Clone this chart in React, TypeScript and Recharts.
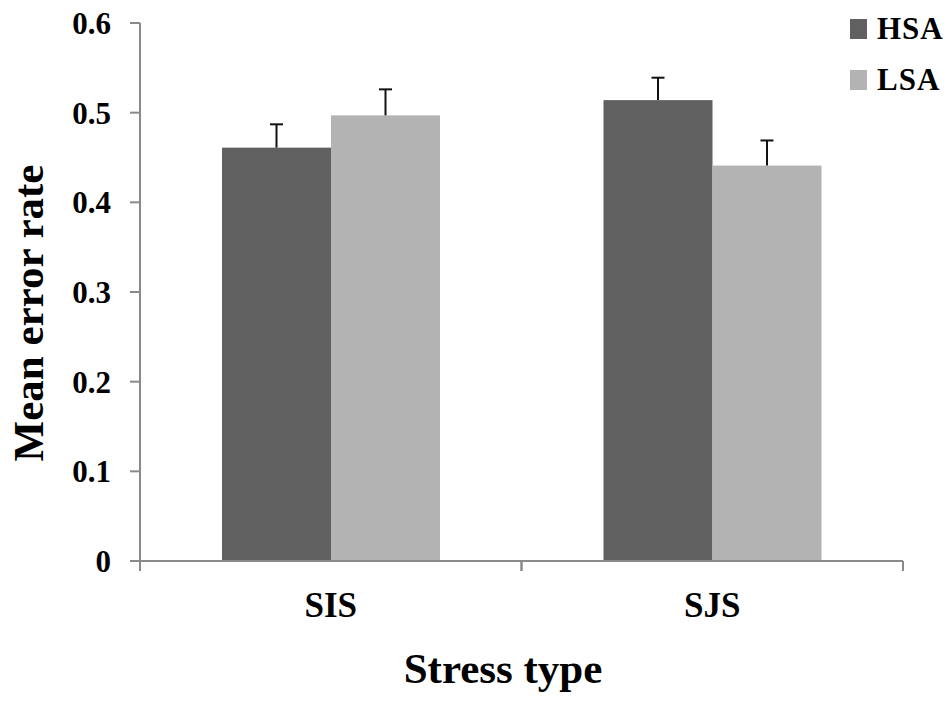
import { Bar, BarChart, Legend, XAxis, YAxis } from 'recharts';

const categories = ['SIS', 'SJS'];
const hsaMeans = [0.461, 0.514];
const lsaMeans = [0.497, 0.441];
const hsaErrors = [0.026, 0.025];
const lsaErrors = [0.029, 0.028];
const yTicks = [0, 0.1, 0.2, 0.3, 0.4, 0.5, 0.6];

const series = [
  { key: 'hsa', errKey: 'hsaErr', name: 'HSA', color: '#606060' },
  { key: 'lsa', errKey: 'lsaErr', name: 'LSA', color: '#b3b3b3' },
];

const data = categories.map((c, i) => ({
  cat: c,
  hsa: hsaMeans[i],
  lsa: lsaMeans[i],
  hsaErr: hsaErrors[i],
  lsaErr: lsaErrors[i],
}));

const FONT = '"Liberation Serif", "Times New Roman", serif';
const AXIS = '#8a8a8a';

// bar rect plus an upward-only error whisker, scaled from the bar's own px/value ratio
function barWithError(valueKey: string, errKey: string) {
  return (props: any) => {
    const { x, y, width, height, fill, payload } = props;
    const v = payload[valueKey];
    const e = payload[errKey];
    const pxPerUnit = v ? height / v : 0;
    const top = y - e * pxPerUnit;
    const cx = x + width / 2;
    return (
      <g>
        <rect x={x} y={y} width={width} height={height} fill={fill} />
        <line x1={cx} y1={y} x2={cx} y2={top} stroke="#111" strokeWidth={2} />
        <line x1={cx - 6.5} y1={top} x2={cx + 6.5} y2={top} stroke="#111" strokeWidth={2} />
      </g>
    );
  };
}

function CatTick(props: any) {
  const { x, y, payload } = props;
  const half = payload.offset ?? 190.75;
  return (
    <g>
      <line x1={x - half} y1={y} x2={x - half} y2={y + 10} stroke={AXIS} strokeWidth={2} />
      <line x1={x + half} y1={y} x2={x + half} y2={y + 10} stroke={AXIS} strokeWidth={2} />
      <text x={x} y={y + 56} textAnchor="middle" fontFamily={FONT} fontWeight="bold" fontSize={35} fill="#000">
        {payload.value}
      </text>
    </g>
  );
}

function LegendBox() {
  return (
    <div style={{ fontFamily: FONT, fontWeight: 'bold', fontSize: 31, color: '#000' }}>
      {series.map((s) => (
        <div key={s.key} style={{ display: 'flex', alignItems: 'center', height: 51 }}>
          <span style={{ display: 'inline-block', width: 17, height: 20, background: s.color, marginRight: 10 }} />
          <span style={{ letterSpacing: 1 }}>{s.name}</span>
        </div>
      ))}
    </div>
  );
}

export default function App() {
  return (
    <div style={{ position: 'absolute', left: 0, top: 0, width: 950, height: 703, background: '#fff' }}>
      <BarChart
        width={950}
        height={703}
        data={data}
        margin={{ top: 23, right: 47, bottom: 0, left: 0 }}
        barGap={0}
        barCategoryGap={82}
      >
        <XAxis
          dataKey="cat"
          height={142}
          axisLine={{ stroke: AXIS, strokeWidth: 2 }}
          tickLine={false}
          tickSize={0}
          tickMargin={0}
          tick={<CatTick />}
          interval={0}
          label={{
            content: () => (
              <text x={503} y={683} textAnchor="middle" fontFamily={FONT} fontWeight="bold" fontSize={43} fill="#000">
                Stress type
              </text>
            ),
          }}
        />
        <YAxis
          width={140}
          domain={[0, 0.6]}
          ticks={yTicks}
          interval={0}
          axisLine={{ stroke: AXIS, strokeWidth: 2 }}
          tickLine={{ stroke: AXIS, strokeWidth: 2 }}
          tickSize={10}
          tickMargin={19}
          tick={{ fontFamily: FONT, fontWeight: 'bold', fontSize: 31, fill: '#000' }}
          label={{
            content: () => (
              <text
                x={0}
                y={0}
                transform="translate(43, 313) rotate(-90)"
                textAnchor="middle"
                fontFamily={FONT}
                fontWeight="bold"
                fontSize={43}
                fill="#000"
              >
                Mean error rate
              </text>
            ),
          }}
        />
        <Legend
          layout="horizontal"
          verticalAlign="middle"
          align="center"
          content={<LegendBox />}
          wrapperStyle={{ position: 'absolute', left: 850, top: 3, width: 100 }}
        />
        {series.map((s) => (
          <Bar
            key={s.key}
            dataKey={s.key}
            name={s.name}
            fill={s.color}
            isAnimationActive={false}
            shape={barWithError(s.key, s.errKey)}
          />
        ))}
      </BarChart>
    </div>
  );
}
